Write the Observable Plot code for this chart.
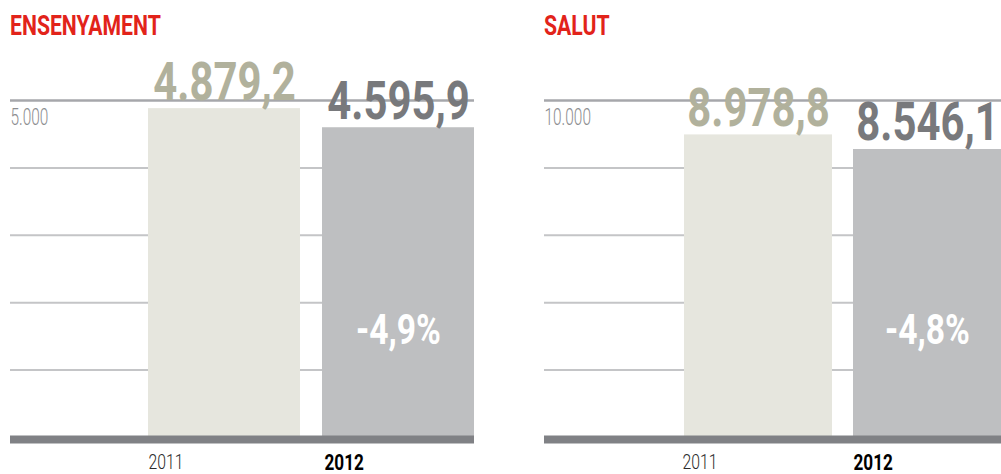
<!DOCTYPE html>
<html>
<head>
<meta charset="utf-8">
<script src="https://cdn.jsdelivr.net/npm/d3@7"></script>
<script src="https://cdn.jsdelivr.net/npm/@observablehq/plot@0.6"></script>
<style>
  html, body { margin: 0; padding: 0; background: #fff; overflow: hidden; }
  body { width: 1001px; height: 474px; position: relative; font-family: Roboto, sans-serif; }
  .title { position: absolute; top: 10px; font-size: 27px; font-weight: bold; color: #e2231a;
           line-height: 32px; transform: scaleX(0.785); transform-origin: 0 50%; white-space: nowrap; }
</style>
</head>
<body>
<script>
// ---- data ----
const panelTitles = ["ENSENYAMENT", "SALUT"];
const years = ["2011", "2012"];
const ensenyamentValues = [4879.2, 4595.9];
const salutValues = [8978.8, 8546.1];
const changeLabels = ["-4,9%", "-4,8%"];
const axisMax = [5000, 10000];
const gridStep = [1000, 2000];

const locale = d3.formatLocale({decimal: ",", thousands: ".", grouping: [3], currency: ["", "€"]});
const fmtVal = locale.format(",.1f");
const fmtTick = locale.format(",.0f");

const FONT = 'Roboto, sans-serif';
const lefts = [0, 534];
const xRanges = [[148, 475], [149, 467]];
const seriesList = [ensenyamentValues, salutValues];
// horizontal condensing factor per font size (to imitate a condensed face)
const squeeze = {53: 0.79, 42: 0.8, 23: 0.67, 21: 0.75, 22: 0.78};

seriesList.forEach((vals, i) => {
  const data = years.map((y, j) => ({year: y, value: vals[j]}));
  const max = axisMax[i];
  const grid = d3.range(gridStep[i], max, gridStep[i]);

  const t = document.createElement("div");
  t.className = "title";
  t.style.left = (lefts[i] + 10) + "px";
  t.textContent = panelTitles[i];
  document.body.appendChild(t);

  const chart = Plot.plot({
    width: 475,
    height: 424,
    marginTop: 50,
    marginBottom: 37,
    marginLeft: 10,
    marginRight: 1,
    style: {fontFamily: FONT, overflow: "visible"},
    x: {domain: years, range: xRanges[i], paddingInner: 0.126, paddingOuter: 0, axis: null},
    y: {domain: [0, max], axis: null},
    marks: [
      Plot.ruleY(grid, {stroke: "#c4c5c7", strokeWidth: 2}),
      Plot.ruleY([max], {stroke: "#a6a7ab", strokeWidth: 2.5}),
      Plot.text([max], {y: d => d, frameAnchor: "left", text: d => fmtTick(d), textAnchor: "start",
        dy: 17, fontSize: 23, fill: "#8c8d90", fontWeight: 300}),
      Plot.barY(data, {x: "year", y: "value", fill: d => d.year === "2011" ? "#e6e6de" : "#bebfc1"}),
      Plot.ruleY([0], {stroke: "#808185", strokeWidth: 8, dy: 2}),
      Plot.text(data, {x: "year", y: "value", text: d => fmtVal(d.value), lineAnchor: "bottom", dy: -9,
        fontSize: 53, fontWeight: "bold", fill: d => d.year === "2011" ? "#b1b19c" : "#78797c"}),
      Plot.text([changeLabels[i]], {x: () => "2012", frameAnchor: "bottom", text: d => d, dy: -107,
        lineAnchor: "middle", fontSize: 42, fontWeight: "bold", fill: "#ffffff"}),
      Plot.text(data.filter(d => d.year === "2011"), {x: "year", y: () => 0, text: "year", textAnchor: "start",
        dx: -76, dy: 25, fontSize: 21, fontWeight: 300, fill: "#2a2a2a"}),
      Plot.text(data.filter(d => d.year === "2012"), {x: "year", y: () => 0, text: "year", textAnchor: "start",
        dx: -74, dy: 25, fontSize: 22, fontWeight: "bold", fill: "#000"})
    ]
  });
  chart.style.position = "absolute";
  chart.style.left = lefts[i] + "px";
  chart.style.top = "50px";
  document.body.appendChild(chart);

  chart.querySelectorAll("text").forEach(el => {
    const g = el.closest("[font-size]");
    const fs = g ? parseFloat(g.getAttribute("font-size")) : 0;
    const k = squeeze[fs] || 0.8;
    const L = el.getComputedTextLength();
    el.setAttribute("textLength", (L * k).toFixed(2));
    el.setAttribute("lengthAdjust", "spacingAndGlyphs");
  });
});
</script>
</body>
</html>
